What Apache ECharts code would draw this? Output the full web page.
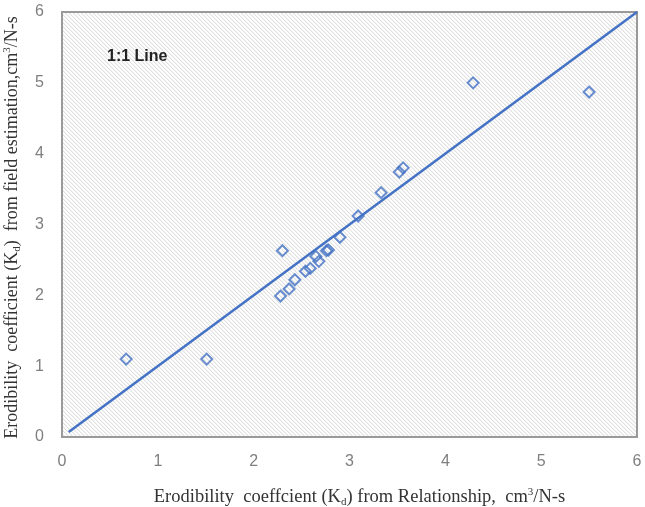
<!DOCTYPE html>
<html><head><meta charset="utf-8">
<script src="https://cdn.jsdelivr.net/npm/echarts@6/dist/echarts.min.js"></script>
<style>html,body{margin:0;padding:0;background:#fff}#c{width:645px;height:507px}</style>
</head><body><div id="c"></div>
<script>
var relX = [0.67, 1.51, 2.30, 2.28, 2.37, 2.43, 2.54, 2.59, 2.65, 2.68, 2.76, 2.78, 2.90, 3.09, 3.33, 3.52, 3.56, 4.29, 5.50];
var fieldY = [1.10, 1.10, 2.63, 1.99, 2.09, 2.22, 2.34, 2.38, 2.55, 2.48, 2.63, 2.64, 2.82, 3.12, 3.45, 3.74, 3.80, 5.00, 4.87];
var lineX = [0.07, 6];
var lineY = [0.07, 6];
var tickValues = [0, 1, 2, 3, 4, 5, 6];

var tile = document.createElement('canvas');
tile.width = 4; tile.height = 4;
var tc = tile.getContext('2d');
tc.fillStyle = '#ffffff'; tc.fillRect(0,0,4,4);
for (var i = 0; i < 4; i++) {
  tc.fillStyle = '#e0e0e0'; tc.fillRect(i, i, 1, 1);
  tc.fillStyle = '#f2f2f2'; tc.fillRect((i+1)%4, i, 1, 1);
}

var pts = relX.map(function(x, i){ return [x, fieldY[i]]; });
var linePts = lineX.map(function(x, i){ return [x, lineY[i]]; });

var chart = echarts.init(document.getElementById('c'), null, {renderer:'canvas'});
var labelStyle = {color:'#7f7f7f', fontFamily:'Liberation Sans', fontSize:16};
function rich(sz){
  return {
    t:{fontFamily:'Liberation Serif', fontSize:sz, color:'#333', lineHeight:22},
    s:{fontFamily:'Liberation Serif', fontSize:Math.round(sz*0.62), color:'#333', lineHeight:22, padding:[11,0,0,0]},
    p:{fontFamily:'Liberation Serif', fontSize:Math.round(sz*0.62), color:'#333', lineHeight:22, padding:[0,0,9,0]}
  };
}
chart.setOption({
  animation:false,
  grid:{left:62, right:8, top:12, bottom:70, show:true, borderColor:'#9a9a9a', borderWidth:2,
        outerBoundsMode:'none', containLabel:false,
        backgroundColor:{image:tile, repeat:'repeat'}},
  xAxis:{type:'value', min:0, max:6, interval:1,
    axisLine:{show:false}, axisTick:{show:false}, splitLine:{show:false},
    axisLabel:Object.assign({margin:17}, labelStyle),
    name:'{t|Erodibility  coeffcient (K}{s|d}{t|) from Relationship,  cm}{p|3}{t|/N-s}',
    nameLocation:'middle', nameGap:49,
    nameTextStyle:{rich:rich(18.5), padding:[0,0,0,20]}
  },
  yAxis:{type:'value', min:0, max:6, interval:1,
    axisLine:{show:false}, axisTick:{show:false}, splitLine:{show:false},
    axisLabel:Object.assign({margin:18}, labelStyle),
    name:'{t|Erodibility  coefficient (K}{s|d}{t|)  from field estimation,cm}{p|3}{t|/N-s}',
    nameLocation:'middle', nameGap:39,
    nameTextStyle:{rich:rich(18), padding:[0,6,0,0]}
  },
  graphic:[{type:'text', left:107, top:49, style:{text:'1:1 Line', fontFamily:'Liberation Sans Narrow, Liberation Sans', fontSize:16, fontWeight:'bold', fill:'#222'}}],
  series:[
    {type:'line', data:linePts, symbol:'none', lineStyle:{color:'#4472C4', width:2.5}, z:2},
    {type:'scatter', data:pts, symbol:'diamond', symbolSize:11,
      itemStyle:{color:'rgba(255,255,255,0)', borderColor:'#4472C4', borderWidth:2}, z:3}
  ]
});
</script></body></html>
